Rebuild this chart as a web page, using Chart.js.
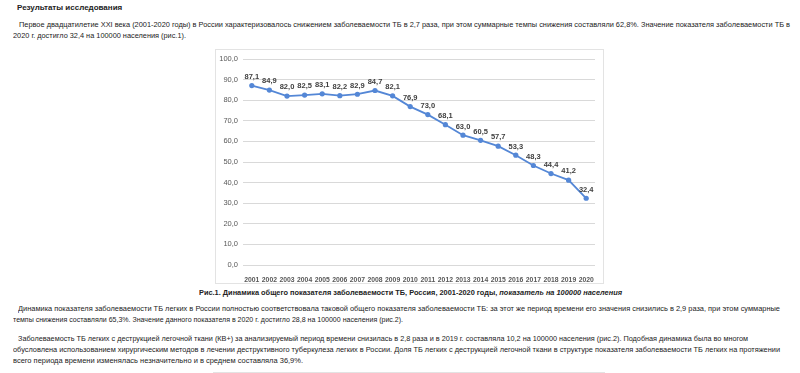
<!DOCTYPE html>
<html><head><meta charset="utf-8">
<script src="https://cdn.jsdelivr.net/npm/chart.js@4.4.1/dist/chart.umd.min.js"></script>
<style>
html,body{margin:0;padding:0;background:#fff;width:800px;height:373px;overflow:hidden;position:relative;font-family:"Liberation Sans",Arial,sans-serif;color:#222;}
.ln{position:absolute;white-space:nowrap;font-size:8px;line-height:10px;transform-origin:0 50%;}
.b{font-weight:bold;}
#box{position:absolute;left:215px;top:49px;width:389px;height:235px;border:1px solid #e3e3e3;box-sizing:border-box;}
#box2{position:absolute;left:213px;top:372px;width:392px;height:10px;border:1px solid #e3e3e3;box-sizing:border-box;}
#cv{position:absolute;left:215px;top:49px;}
#cap{position:absolute;left:199px;top:288px;font-size:8px;line-height:10px;font-weight:bold;white-space:nowrap;transform-origin:0 50%;}
</style></head><body>
<div class="ln b" style="left:17px;top:3px;">Результаты исследования</div>
<div class="ln" data-w="771" style="left:19px;top:20px;">Первое двадцатилетие XXI века (2001-2020 годы) в России характеризовалось снижением заболеваемости ТБ в 2,7 раза, при этом суммарные темпы снижения составляли 62,8%. Значение показателя заболеваемости ТБ в</div>
<div class="ln" data-w="173" style="left:13px;top:31px;">2020 г. достигло 32,4 на 100000 населения (рис.1).</div>
<div id="box"></div>
<canvas id="cv" width="389" height="235"></canvas>
<div id="cap" data-w="423">Рис.1. Динамика общего показателя заболеваемости ТБ, Россия, 2001-2020 годы, <i>показатель на 100000 населения</i></div>
<div class="ln" data-w="762" style="left:18px;top:304px;">Динамика показателя заболеваемости ТБ легких в России полностью соответствовала таковой общего показателя заболеваемости ТБ: за этот же период времени его значения снизились в 2,9 раза, при этом суммарные</div>
<div class="ln" data-w="390" style="left:13px;top:315px;">темпы снижения составляли 65,3%. Значение данного показателя в 2020 г. достигло 28,8 на 100000 населения (рис.2).</div>
<div class="ln" data-w="730" style="left:18px;top:334px;">Заболеваемость ТБ легких с деструкцией легочной ткани (КВ+) за анализируемый период времени снизилась в 2,8 раза и в 2019 г. составляла 10,2 на 100000 населения (рис.2). Подобная динамика была во многом</div>
<div class="ln" data-w="767" style="left:13px;top:345px;">обусловлена использованием хирургическим методов в лечении деструктивного туберкулеза легких в России. Доля ТБ легких с деструкцией легочной ткани в структуре показателя заболеваемости ТБ легких на протяжении</div>
<div class="ln" data-w="290" style="left:13px;top:356px;">всего периода времени изменялась незначительно и в среднем составляла 36,9%.</div>
<div id="box2"></div>
<script>
const years = ["2001","2002","2003","2004","2005","2006","2007","2008","2009","2010","2011","2012","2013","2014","2015","2016","2017","2018","2019","2020"];
const incidence = [87.1,84.9,82.0,82.5,83.1,82.2,82.9,84.7,82.1,76.9,73.0,68.1,63.0,60.5,57.7,53.3,48.3,44.4,41.2,32.4];
const yMin = 0, yMax = 100, yStep = 10;

document.querySelectorAll('[data-w]').forEach(el=>{
  const w = el.getBoundingClientRect().width;
  const t = parseFloat(el.dataset.w);
  el.style.transform = 'scaleX(' + (t / w) + ')';
});

const fmt = v => v.toFixed(1).replace('.', ',');
const LABEL_FONT = 'bold 7.5px "Liberation Sans", sans-serif';

const labelPlugin = {
  id: 'vlabels',
  afterDatasetsDraw(chart) {
    const ctx = chart.ctx;
    const meta = chart.getDatasetMeta(0);
    ctx.save();
    ctx.font = LABEL_FONT;
    ctx.fillStyle = '#404040';
    ctx.textAlign = 'center';
    ctx.textBaseline = 'bottom';
    meta.data.forEach((pt, i) => {
      ctx.fillText(fmt(incidence[i]), pt.x, pt.y - 5);
    });
    ctx.restore();
  }
};

new Chart(document.getElementById('cv'), {
  type: 'line',
  data: {
    labels: years,
    datasets: [{
      data: incidence,
      borderColor: '#5487d6',
      backgroundColor: '#5487d6',
      borderWidth: 1.8,
      pointRadius: 2.6,
      pointBorderWidth: 0,
      tension: 0
    }]
  },
  options: {
    responsive: false,
    animation: false,
    devicePixelRatio: 1,
    layout: { padding: { top: 10, right: 9, bottom: 0, left: 0 } },
    plugins: { legend: { display: false }, tooltip: { enabled: false } },
    scales: {
      x: {
        offset: true,
        grid: { display: false },
        border: { display: false },
        ticks: { color: '#595959', font: { family: '"Liberation Sans", sans-serif', size: 6.8, weight: 'bold' }, maxRotation: 0, autoSkip: false, padding: 3 },
        afterFit(s) { s.height = 19; }
      },
      y: {
        min: yMin, max: yMax,
        grid: { color: '#d9d9d9', lineWidth: 1, drawTicks: false },
        border: { display: false },
        ticks: { stepSize: yStep, color: '#595959', font: { family: '"Liberation Sans", sans-serif', size: 7.5 }, padding: 5, callback: v => fmt(v) },
        afterFit(s) { s.width = 28; }
      }
    }
  },
  plugins: [labelPlugin]
});
</script>
</body></html>
